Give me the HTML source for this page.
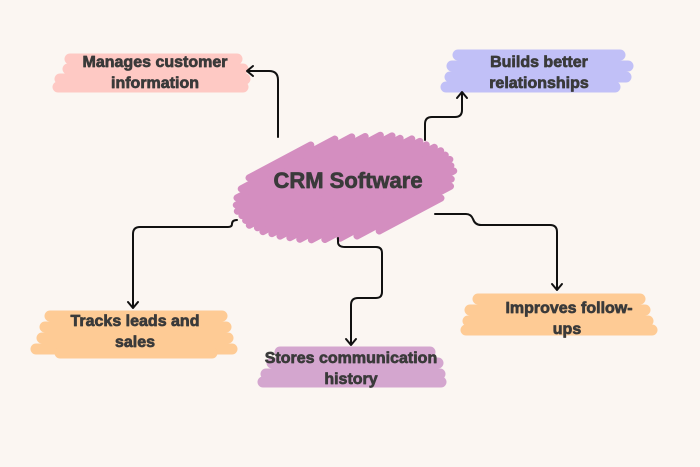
<!DOCTYPE html>
<html><head><meta charset="utf-8"><style>
html,body{margin:0;padding:0;background:#fbf6f2;}
svg{display:block;}
text{font-family:"Liberation Sans",sans-serif;font-weight:bold;fill:#3a3a3a;stroke:#3a3a3a;stroke-width:0.7;stroke-linejoin:round;}
</style></head><body>
<svg width="700" height="467" viewBox="0 0 700 467" xmlns="http://www.w3.org/2000/svg">
<rect width="700" height="467" fill="#fbf6f2"/>

<!-- center blob -->
<g transform="translate(345,188) rotate(-28)" stroke="#d48ec0" stroke-width="7" stroke-linecap="round">
<ellipse cx="0" cy="0" rx="98" ry="44" transform="rotate(20)" fill="#d48ec0" stroke="none"/>
<line x1="-80" y1="-54" x2="-10" y2="-54"/>
<line x1="-92" y1="-48" x2="14" y2="-48"/>
<line x1="-100" y1="-42" x2="30" y2="-42"/>
<line x1="-104" y1="-36" x2="42" y2="-36"/>
<line x1="-106" y1="-30" x2="56" y2="-30"/>
<line x1="-104" y1="-24" x2="66" y2="-24"/>
<line x1="-103" y1="-18" x2="72" y2="-18"/>
<line x1="-102" y1="-12" x2="82" y2="-12"/>
<line x1="-96" y1="-6" x2="88" y2="-6"/>
<line x1="-93" y1="0" x2="92" y2="0"/>
<line x1="-86" y1="6" x2="98" y2="6"/>
<line x1="-80" y1="12" x2="102" y2="12"/>
<line x1="-72" y1="18" x2="104" y2="18"/>
<line x1="-64" y1="24" x2="106" y2="24"/>
<line x1="-54" y1="30" x2="104" y2="30"/>
<line x1="-42" y1="36" x2="104" y2="36"/>
<line x1="-28" y1="42" x2="98" y2="42"/>
<line x1="-12" y1="48" x2="94" y2="48"/>
<line x1="10" y1="54" x2="80" y2="54"/>
</g>

<!-- label blobs -->
<g stroke-linecap="round" stroke-width="11">
<g stroke="#fec9c4">
<line x1="70" y1="59" x2="237" y2="59"/>
<line x1="68" y1="69" x2="243" y2="69"/>
<line x1="60" y1="79" x2="245" y2="79"/>
<line x1="58" y1="87" x2="243" y2="87"/>
</g>
<g stroke="#c1c0f7">
<line x1="458" y1="55" x2="620" y2="55"/>
<line x1="452" y1="66" x2="628" y2="66"/>
<line x1="450" y1="77" x2="626" y2="77"/>
<line x1="446" y1="87" x2="615" y2="87"/>
</g>
<g stroke="#fecb95">
<line x1="50" y1="316" x2="222" y2="316"/>
<line x1="45" y1="327" x2="226" y2="327"/>
<line x1="42" y1="338" x2="228" y2="338"/>
<line x1="36" y1="349" x2="232" y2="349"/>
<line x1="60" y1="353" x2="212" y2="353"/>
</g>
<g stroke="#d4a6cf">
<line x1="280" y1="352" x2="430" y2="352"/>
<line x1="272" y1="363" x2="438" y2="363"/>
<line x1="266" y1="374" x2="440" y2="374"/>
<line x1="263" y1="382" x2="441" y2="382"/>
</g>
<g stroke="#fecb95">
<line x1="478" y1="299" x2="640" y2="299"/>
<line x1="470" y1="310" x2="645" y2="310"/>
<line x1="468" y1="321" x2="648" y2="321"/>
<line x1="466" y1="330" x2="652" y2="330"/>
</g>
</g>

<!-- connectors -->
<g fill="none" stroke="#111" stroke-width="2" stroke-linecap="round" stroke-linejoin="round">
<path d="M278,137 V80 Q278,71 269,71 H248"/>
<path d="M253,66 L247,71 L253,76"/>
<path d="M425,140 V124 Q425,117 432,117 H455 Q462,117 462,110 V93"/>
<path d="M457,98 L462,92 L467,98"/>
<path d="M237,220 Q232,220 232,224 Q232,227 228,227 H140 Q133,227 133,234 V307"/>
<path d="M128,302 L133,308 L138,302"/>
<path d="M338,238 V242 Q338,247 345,247 H376 Q382,247 382,253 V292 Q382,298 376,298 H358 Q351,298 351,305 V344"/>
<path d="M346,339 L351,345 L356,339"/>
<path d="M435,214 H466 Q471,214 473,219 Q475,225 481,225 H550 Q557,225 557,232 V289"/>
<path d="M552,284 L557,290 L562,284"/>
</g>

<!-- text -->
<text x="348" y="188" font-size="22" text-anchor="middle">CRM Software</text>
<g font-size="16" text-anchor="middle">
<text x="155" y="67">Manages customer</text>
<text x="155" y="88">information</text>
<text x="539" y="67">Builds better</text>
<text x="539" y="88">relationships</text>
<text x="135" y="326">Tracks leads and</text>
<text x="135" y="347">sales</text>
<text x="351" y="363">Stores communication</text>
<text x="351" y="384">history</text>
<text x="569" y="313">Improves follow-</text>
<text x="567" y="334">ups</text>
</g>
</svg>
</body></html>
